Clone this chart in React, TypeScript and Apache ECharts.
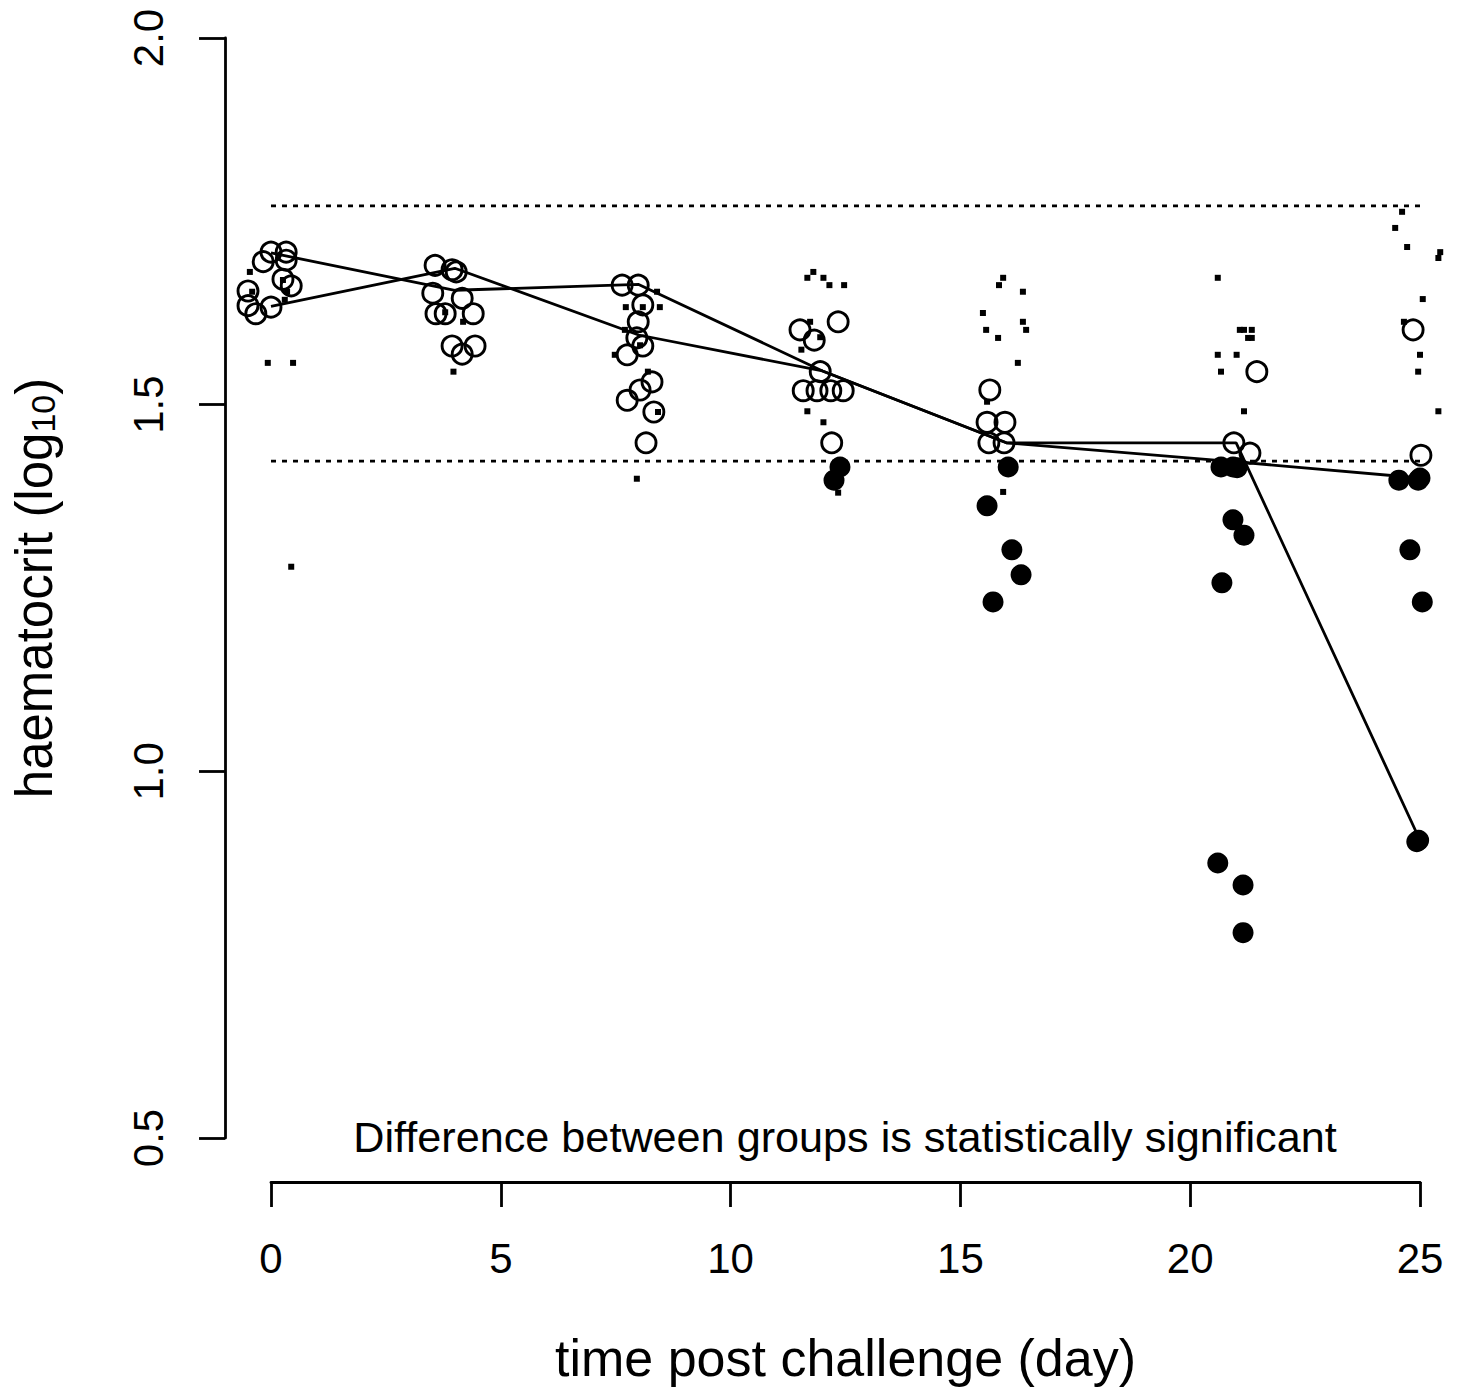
import React, { useEffect, useRef } from "react";
import * as echarts from "echarts";

// median lines (day, value)
const days = [0, 4, 8, 12, 16, 21, 25];
const medianA = [1.707, 1.656, 1.664, 1.546, 1.448, 1.448, 0.906];
const medianB = [1.634, 1.686, 1.595, 1.546, 1.448, 1.422, 1.4];

// reference (normal range) lines
const refUpper = 1.771;
const refLower = 1.423;
const refSpan = [0, 25];

// open circles: [jittered day, log10 haematocrit]
const openPts = [
  [-0.5, 1.655], [-0.5, 1.635], [-0.33, 1.624], [0.0, 1.633], [-0.17, 1.695], [0.0, 1.708], [0.33, 1.708], [0.33, 1.697], [0.26, 1.671], [0.44, 1.662],
  [3.57, 1.69], [3.94, 1.684], [4.03, 1.681], [3.52, 1.652], [4.16, 1.645], [3.59, 1.624], [3.79, 1.624], [4.4, 1.624], [3.94, 1.58], [4.16, 1.569], [4.44, 1.58],
  [7.64, 1.663], [7.99, 1.663], [8.09, 1.636], [7.99, 1.613], [7.96, 1.591], [8.09, 1.58], [7.75, 1.568], [8.29, 1.531], [8.03, 1.52], [7.75, 1.506], [8.33, 1.49], [8.16, 1.448],
  [11.51, 1.602], [11.82, 1.588], [12.34, 1.613], [11.95, 1.545], [11.58, 1.519], [11.88, 1.519], [12.18, 1.519], [12.45, 1.519], [12.2, 1.448],
  [15.64, 1.52], [15.58, 1.476], [15.97, 1.476], [15.62, 1.448], [15.95, 1.448],
  [21.45, 1.545], [20.95, 1.448], [21.3, 1.434],
  [24.85, 1.602], [25.02, 1.431],
];

// filled circles
const filledPts = [
  [12.38, 1.415], [12.25, 1.397],
  [16.04, 1.415], [15.58, 1.362], [16.12, 1.302], [16.32, 1.268], [15.71, 1.231],
  [20.67, 1.415], [20.93, 1.415], [21.02, 1.414], [20.93, 1.343], [21.17, 1.322], [20.69, 1.257], [20.6, 0.875], [21.15, 0.845], [21.15, 0.78],
  [24.54, 1.397], [24.96, 1.397], [25.0, 1.4], [24.78, 1.302], [25.05, 1.231], [24.93, 0.904], [24.97, 0.906],
];

// small square points
const smallPts = [
  [-0.46, 1.681], [-0.41, 1.654], [0.26, 1.67], [0.35, 1.654], [0.3, 1.643], [-0.07, 1.557], [0.48, 1.557], [0.44, 1.279],
  [3.97, 1.545], [4.18, 1.613], [3.79, 1.626],
  [8.4, 1.654], [7.72, 1.633], [8.09, 1.633], [8.46, 1.633], [7.7, 1.602], [8.03, 1.581], [7.48, 1.568], [8.2, 1.545], [8.42, 1.49], [7.96, 1.399],
  [11.67, 1.673], [11.8, 1.681], [12.02, 1.673], [12.15, 1.663], [12.47, 1.663], [11.73, 1.613], [11.95, 1.592], [11.54, 1.575], [11.67, 1.491], [12.02, 1.476], [12.34, 1.38],
  [15.93, 1.673], [15.84, 1.663], [16.36, 1.654], [15.49, 1.625], [16.36, 1.613], [15.56, 1.602], [16.43, 1.602], [15.82, 1.591], [16.25, 1.557], [15.58, 1.504], [15.93, 1.381],
  [20.6, 1.673], [21.08, 1.602], [21.17, 1.602], [21.34, 1.602], [21.34, 1.591], [21.26, 1.591], [20.6, 1.568], [21.01, 1.568], [20.67, 1.545], [21.17, 1.491],
  [24.61, 1.763], [24.46, 1.741], [24.72, 1.715], [25.44, 1.708], [25.4, 1.7], [25.06, 1.644], [24.65, 1.613], [25.0, 1.568], [24.96, 1.545], [25.4, 1.491],
];

// axes
const yMin = 0.5;
const yMax = 2.0;
const yStep = 0.5;
const xMin = 0;
const xMax = 25;
const xStep = 5;

const xTitle = "time post challenge (day)";
const yTitle = "haematocrit (log{sub|10})";
const annotation = "Difference between groups is statistically significant";

export default function App() {
  const ref = useRef<HTMLDivElement>(null);

  useEffect(() => {
    document.body.style.margin = "0";
    const chart = echarts.init(ref.current!, null, { renderer: "svg" });
    const font = "'Liberation Sans', Arial, Helvetica, sans-serif";
    const PX = 45.96; // pixels per day
    const X0 = 271; // pixel of day 0
    const LW = 2.8;
    const black = "#000";

    const option: any = {
      animation: false,
      backgroundColor: "#fff",
      textStyle: { fontFamily: font, color: black },
      grid: [
        { left: X0 - PX, top: 38, width: 26.8 * PX, height: 1100 },
        { left: X0, top: 1181, width: (xMax - xMin) * PX, height: 1 },
      ],
      xAxis: [
        { gridIndex: 0, type: "value", min: -1, max: 25.8, show: false },
        {
          gridIndex: 1,
          type: "value",
          min: xMin,
          max: xMax,
          interval: xStep,
          position: "bottom",
          axisLine: { show: true, onZero: false, lineStyle: { color: black, width: LW } },
          axisTick: { show: true, length: 25, lineStyle: { color: black, width: LW } },
          axisLabel: { fontSize: 42, color: black, margin: 55, fontFamily: font },
          splitLine: { show: false },
          name: xTitle,
          nameLocation: "middle",
          nameGap: 150,
          nameTextStyle: { fontSize: 52, color: black, fontFamily: font },
        },
      ],
      yAxis: [
        {
          gridIndex: 0,
          type: "value",
          min: yMin,
          max: yMax,
          interval: yStep,
          position: "left",
          axisLine: { show: true, onZero: false, lineStyle: { color: black, width: LW } },
          axisTick: { show: true, length: 26, lineStyle: { color: black, width: LW } },
          axisLabel: {
            rotate: 90,
            fontSize: 42,
            color: black,
            margin: 56,
            fontFamily: font,
            formatter: (v: number) => v.toFixed(1),
          },
          splitLine: { show: false },
          name: yTitle,
          nameLocation: "middle",
          nameRotate: 90,
          nameGap: 165,
          nameTextStyle: {
            fontSize: 51,
            color: black,
            fontFamily: font,
            rich: {
              sub: { fontSize: 34, fontFamily: font, color: black, verticalAlign: "bottom", padding: [18, 0, 0, 0] },
            },
          },
        },
        { gridIndex: 1, type: "value", min: 0, max: 1, show: false },
      ],
      series: [
        {
          type: "scatter",
          name: "small",
          xAxisIndex: 0,
          yAxisIndex: 0,
          symbol: "rect",
          symbolSize: 6,
          itemStyle: { color: black, opacity: 1 },
          data: smallPts,
          silent: true,
        },
        {
          type: "scatter",
          name: "open",
          xAxisIndex: 0,
          yAxisIndex: 0,
          symbol: "circle",
          symbolSize: 20,
          itemStyle: { color: "rgba(0,0,0,0)", borderColor: black, borderWidth: 2.9, opacity: 1 },
          data: openPts,
          silent: true,
        },
        {
          type: "scatter",
          name: "filled",
          xAxisIndex: 0,
          yAxisIndex: 0,
          symbol: "circle",
          symbolSize: 21,
          itemStyle: { color: black, opacity: 1 },
          data: filledPts,
          silent: true,
        },
        {
          type: "line",
          name: "median A",
          xAxisIndex: 0,
          yAxisIndex: 0,
          symbol: "none",
          lineStyle: { color: black, width: LW },
          data: days.map((d, i) => [d, medianA[i]]),
          silent: true,
        },
        {
          type: "line",
          name: "median B",
          xAxisIndex: 0,
          yAxisIndex: 0,
          symbol: "none",
          lineStyle: { color: black, width: LW },
          data: days.map((d, i) => [d, medianB[i]]),
          silent: true,
        },
        {
          type: "line",
          name: "upper reference",
          xAxisIndex: 0,
          yAxisIndex: 0,
          symbol: "none",
          lineStyle: { color: black, width: 2.8, type: [5, 6] },
          data: refSpan.map((d) => [d, refUpper]),
          silent: true,
        },
        {
          type: "line",
          name: "lower reference",
          xAxisIndex: 0,
          yAxisIndex: 0,
          symbol: "none",
          lineStyle: { color: black, width: 2.8, type: [5, 6] },
          data: refSpan.map((d) => [d, refLower]),
          silent: true,
        },
      ],
      graphic: [
        {
          type: "text",
          x: 845,
          y: 1137,
          style: {
            text: annotation,
            fontSize: 43.2,
            fontFamily: font,
            fill: black,
            align: "center",
            verticalAlign: "middle",
          },
        },
      ],
    };

    chart.setOption(option);
    return () => chart.dispose();
  }, []);

  return (
    <div
      ref={ref}
      style={{ position: "absolute", left: 0, top: 0, width: 1460, height: 1389, background: "#fff" }}
    />
  );
}
